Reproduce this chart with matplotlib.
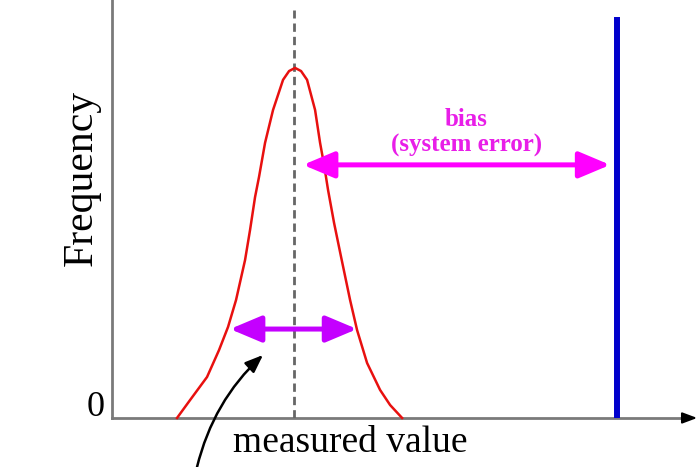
import matplotlib.pyplot as plt
from matplotlib.patches import FancyArrowPatch

# Courbe de distribution
curve_x = [6.5, 7.8, 9.5, 10.7, 11.6, 12.4, 13.3, 13.8, 14.3, 14.7, 15.3, 16.1, 17.1, 17.7,
           18.3,
           18.9, 19.5, 20.3, 20.8, 21.2, 21.6, 22.2, 22.9, 23.8, 24.5, 25.5, 26.8, 27.8, 29.0]
curve_y = [0.0, 5.1, 11.7, 19.4, 26.0, 33.7, 45.1, 53.7, 63.1, 68.9, 78.6, 88.0, 96.6, 99.1,
           100.0,
           99.1, 96.6, 88.0, 78.6, 72.3, 65.1, 55.7, 46.0, 33.7, 25.1, 15.7, 8.0, 3.7, 0.0]

mean_x = 18.2        # valeur moyenne mesurée
true_x = 50.5        # valeur vraie
true_top = 113.7
mean_top = 116.6

bias_span = [19.1, 49.8]
bias_y = 72.3
spread_span = [11.8, 24.5]
spread_y = 25.4

# flèche noire (annotation)
pointer_tail = [8.5, -14.0]
pointer_head = [15.1, 18.0]

xmax, ymax = 58.5, 119.4

fig = plt.figure(figsize=(7, 4.67), dpi=100)
ax = fig.add_axes([0.16, 0.105, 0.836, 0.895])
ax.set_xlim(0, xmax)
ax.set_ylim(0, ymax)
for s in ['top', 'right', 'bottom']:
    ax.spines[s].set_visible(False)
ax.spines['left'].set_color('#7a7a7a')
ax.spines['left'].set_linewidth(2)
ax.set_xticks([])
ax.set_yticks([])

serif = ['Liberation Serif', 'DejaVu Serif']

# axe des x avec flèche
ax.plot([0, xmax - 1.0], [0, 0], color='#7a7a7a', lw=2, clip_on=False, zorder=2)
ax.annotate('', xy=(xmax, 0), xytext=(xmax - 1.5, 0), annotation_clip=False,
            arrowprops=dict(arrowstyle='-|>,head_length=0.8,head_width=0.3', color='black',
                            lw=1.5, shrinkA=0, shrinkB=0, mutation_scale=11))

ax.plot([mean_x, mean_x], [0, mean_top], color='#666666', lw=2, dashes=(3, 1.8), zorder=2)
ax.plot(curve_x, curve_y, color='#e8100f', lw=1.8, zorder=3, clip_on=False,
        solid_joinstyle='round')
ax.plot([true_x, true_x], [0, true_top], color='#0000cc', lw=4.3, zorder=3)

bias = FancyArrowPatch((bias_span[0], bias_y), (bias_span[1], bias_y),
                       arrowstyle='<|-|>,head_length=19,head_width=8', mutation_scale=1,
                       color='#ff00ff', lw=3.6, shrinkA=0, shrinkB=0, zorder=4)
ax.add_patch(bias)
spread = FancyArrowPatch((spread_span[0], spread_y), (spread_span[1], spread_y),
                         arrowstyle='<|-|>,head_length=19,head_width=8', mutation_scale=1,
                         color='#c400ff', lw=3.6, shrinkA=0, shrinkB=0, zorder=4)
ax.add_patch(spread)

ax.annotate('', xy=pointer_head, xytext=pointer_tail, annotation_clip=False,
            arrowprops=dict(arrowstyle='-|>,head_length=0.9,head_width=0.35', color='black',
                            lw=1.8, shrinkA=0, shrinkB=0, mutation_scale=12,
                            connectionstyle='arc3,rad=-0.15'))

ax.text(35.4, 81.5, 'bias\n(system error)', color='#e81ee8', fontsize=18, fontweight='bold',
        family=serif, ha='center', va='center', linespacing=1.12)

fig.text(82 / 700, 1 - 178 / 467, 'Frequency', rotation=90, fontsize=30, family=serif,
         ha='center', va='center')
fig.text(96 / 700, 1 - 407 / 467, '0', fontsize=26, family=serif, ha='center', va='center')
fig.text(350 / 700, 1 - 443 / 467, 'measured value', fontsize=27, family=serif,
         ha='center', va='center')

fig.savefig('out.png', dpi=100)
